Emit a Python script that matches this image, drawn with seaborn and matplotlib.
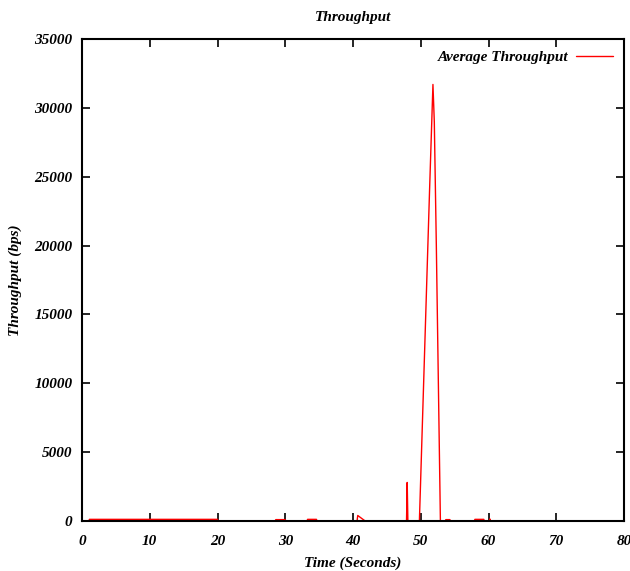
import matplotlib
matplotlib.use("Agg")
import matplotlib.pyplot as plt
import seaborn as sns
import pandas as pd

time_s = [0.0, 1.0, 1.1, 20.0, 20.1, 28.5, 28.6, 30.0, 30.1, 33.2, 33.3, 34.6, 34.7,
          40.6, 40.7, 41.8, 47.9, 48.0, 48.1, 49.8, 50.3, 50.8, 51.3, 51.8, 52.0,
          52.3, 52.6, 52.9, 53.6, 53.7, 54.3, 54.4, 57.9, 58.0, 59.3, 59.4, 60.1,
          60.2, 60.3, 80.0]
throughput = [0, 0, 120, 120, 0, 0, 100, 100, 0, 0, 120, 120, 0,
              0, 400, 0, 0, 2800, 0, 0, 8000, 16000, 24000, 31700, 29000,
              20000, 10000, 0, 0, 100, 100, 0, 0, 120, 120, 0, 0,
              150, 0, 0]
series_label = "Average Throughput"

sns.set_style("white")
font = "Liberation Serif"
plt.rcParams["font.family"] = [font, "DejaVu Serif"]
plt.rcParams["text.color"] = "black"
plt.rcParams["axes.labelcolor"] = "black"
plt.rcParams["xtick.color"] = "black"
plt.rcParams["ytick.color"] = "black"

df = pd.DataFrame({"Time": time_s, "Throughput": throughput})

fig = plt.figure(figsize=(6.3, 5.71), dpi=100)
ax = fig.add_axes([82/630, 1 - 521/571, (624-82)/630, (521-39)/571])
sns.lineplot(data=df, x="Time", y="Throughput", ax=ax, color="red", lw=1.0,
             label=series_label)

ax.set_xlim(0, 80)
ax.set_ylim(0, 35000)
ax.set_xticks(range(0, 81, 10))
ax.set_yticks(range(0, 35001, 5000))
fp = dict(fontsize=11, fontweight="bold", fontstyle="italic", color="black")
ax.set_xticklabels([str(v) for v in range(0, 81, 10)], **fp)
ax.set_yticklabels([str(v) for v in range(0, 35001, 5000)], **fp)
ax.tick_params(axis="both", direction="in", length=6, width=1.2, top=True, right=True,
               bottom=True, left=True, colors="black")
ax.tick_params(axis="x", pad=10)
ax.tick_params(axis="y", pad=7)
for s in ax.spines.values():
    s.set_linewidth(1.5)
    s.set_color("black")

ax.set_title("Throughput", fontsize=11, fontweight="bold", fontstyle="italic",
             pad=13, color="black")
ax.set_xlabel("Time (Seconds)", fontsize=11, fontweight="bold", fontstyle="italic",
              labelpad=6)
ax.set_ylabel("Throughput (bps)", fontsize=11, fontweight="bold", fontstyle="italic",
              labelpad=9)

leg = ax.legend(loc="upper right", frameon=False, markerfirst=False,
                prop=dict(family=font, size=11, weight="bold", style="italic"),
                handlelength=2.4, borderaxespad=0.35, handletextpad=0.5)
for t in leg.get_texts():
    t.set_color("black")

fig.savefig("out.png", dpi=100)
